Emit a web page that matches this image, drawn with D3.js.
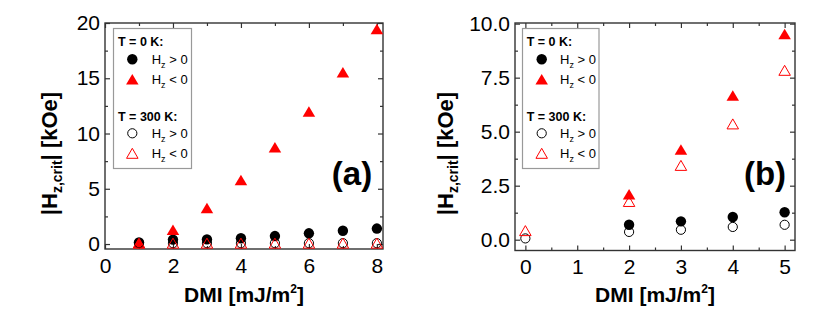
<!DOCTYPE html>
<html>
<head>
<meta charset="utf-8">
<script src="https://cdn.jsdelivr.net/npm/d3@7"></script>
<style>
  body { margin: 0; background: #fff; }
  svg { display: block; font-family: "Liberation Sans", Arial, sans-serif; }
</style>
</head>
<body>
<svg id="chart" width="830" height="321"></svg>
<script>
// ---------- Data ----------
// Panel (a)
const dmiA = [1, 2, 3, 4, 5, 6, 7, 8];
const a_T0_pos   = [0.15, 0.4, 0.42, 0.52, 0.72, 0.97, 1.2, 1.4];
const a_T0_neg   = [0.1, 1.3, 3.25, 5.8, 8.75, 12.0, 15.55, 19.45];
const a_T300_pos = [0.08, 0.08, 0.08, 0.08, 0.08, 0.08, 0.08, 0.08];
const a_T300_neg = [0.08, 0.08, 0.08, 0.08, 0.08, 0.08, 0.08, 0.08];
// Panel (b)  (no T = 0 K point at DMI = 0)
const dmiB = [0, 2, 3, 4, 5];
const b_T0_pos   = [null, 0.69, 0.85, 1.05, 1.27];
const b_T0_neg   = [null, 2.1, 4.17, 6.68, 9.52];
const b_T300_pos = [0.06, 0.36, 0.46, 0.59, 0.69];
const b_T300_neg = [0.42, 1.77, 3.44, 5.36, 7.84];

const xTicksA = [0, 2, 4, 6, 8];
const xMinorA = [1, 3, 5, 7];
const yTicksA = [0, 5, 10, 15, 20];
const yMinorA = [2.5, 7.5, 12.5, 17.5];
const xTicksB = [0, 1, 2, 3, 4, 5];
const xMinorB = [-0.5, 0.5, 1.5, 2.5, 3.5, 4.5];
const yTicksB = [0, 2.5, 5, 7.5, 10];
const yMinorB = [1.25, 3.75, 6.25, 8.75];

const legendGroups = ["T = 0 K:", "T = 300 K:"];
const legendLabels = ["> 0", "< 0"];

const svg = d3.select("#chart");
const RED = "#ff0000";

function triPath(w, h) {
  return `M0,${-h/2}L${w/2},${h/2}L${-w/2},${h/2}Z`;
}

function drawPanel(cfg) {
  const g = svg.append("g");
  const x = d3.scaleLinear().domain(cfg.xDomain).range([cfg.left, cfg.right]);
  const y = d3.scaleLinear().domain(cfg.yDomain).range([cfg.bottom, cfg.top]);

  const mk = (axis, scale, ticks, size, fmt, pad) =>
    axis(scale).tickValues(ticks).tickSize(size).tickPadding(pad).tickFormat(fmt);

  const addAxis = (ax, tx, ty) => {
    const a = g.append("g").attr("transform", `translate(${tx},${ty})`).call(ax);
    a.select(".domain").remove();
    a.selectAll(".tick line").attr("stroke", "#333").attr("stroke-width", 1.2);
    a.selectAll("text").attr("font-size", 21).attr("fill", "#000")
      .attr("font-family", "'Liberation Sans', Arial, sans-serif");
    return a;
  };
  const none = () => "";
  const xMin = cfg.xMinor.filter(v => v > cfg.xDomain[0]);
  addAxis(mk(d3.axisBottom, x, cfg.xTicks, -5, cfg.xFmt, 9), 0, cfg.bottom);
  addAxis(mk(d3.axisBottom, x, xMin, -3, none, 9), 0, cfg.bottom);
  addAxis(mk(d3.axisTop, x, cfg.xTicks, -5, none, 9), 0, cfg.top);
  addAxis(mk(d3.axisTop, x, xMin, -3, none, 9), 0, cfg.top);
  addAxis(mk(d3.axisLeft, y, cfg.yTicks, -5, cfg.yFmt, 5), cfg.left, 0);
  addAxis(mk(d3.axisLeft, y, cfg.yMinor, -3, none, 5), cfg.left, 0);
  addAxis(mk(d3.axisRight, y, cfg.yTicks, -5, none, 5), cfg.right, 0);
  addAxis(mk(d3.axisRight, y, cfg.yMinor, -3, none, 5), cfg.right, 0);

  g.append("rect")
    .attr("x", cfg.left).attr("y", cfg.top)
    .attr("width", cfg.right - cfg.left).attr("height", cfg.bottom - cfg.top)
    .attr("fill", "none").attr("stroke", "#333").attr("stroke-width", 1.4);

  const series = [
    { vals: cfg.s0p, type: "circle", fill: "#000", stroke: "none" },
    { vals: cfg.s0n, type: "tri", fill: RED, stroke: "none" },
    { vals: cfg.s3p, type: "circle", fill: "none", stroke: "#000" },
    { vals: cfg.s3n, type: "tri", fill: "none", stroke: RED },
  ];
  series.forEach(s => {
    const pts = cfg.xs.map((d, i) => ({ x: d, y: s.vals[i] })).filter(p => p.y != null);
    if (s.type === "circle") {
      g.append("g").selectAll("circle").data(pts).join("circle")
        .attr("cx", d => x(d.x)).attr("cy", d => y(d.y))
        .attr("r", s.fill === "none" ? 4.6 : 5.2)
        .attr("fill", s.fill).attr("stroke", s.stroke).attr("stroke-width", 1);
    } else {
      g.append("g").selectAll("path").data(pts).join("path")
        .attr("transform", d => `translate(${x(d.x)},${y(d.y)})`)
        .attr("d", s.fill === "none" ? triPath(11.5, 10) : triPath(12.5, 10.5))
        .attr("fill", s.fill).attr("stroke", s.stroke).attr("stroke-width", 1);
    }
  });

  const L = cfg.legend;
  g.append("rect").attr("x", L.x0).attr("y", 28.5).attr("width", L.x1 - L.x0).attr("height", 140)
    .attr("fill", "#fff").attr("stroke", "#999").attr("stroke-width", 1.2);
  const rows = [
    { head: legendGroups[0], y: 46 },
    { mark: "fc", lab: legendLabels[0], y: 59.3 },
    { mark: "ft", lab: legendLabels[1], y: 79.3 },
    { head: legendGroups[1], y: 121 },
    { mark: "oc", lab: legendLabels[0], y: 133.3 },
    { mark: "ot", lab: legendLabels[1], y: 153.3 },
  ];
  rows.forEach(r => {
    if (r.head) {
      g.append("text").attr("x", L.tx).attr("y", r.y).attr("font-size", 12.5)
        .attr("font-weight", "bold").text(r.head);
      return;
    }
    if (r.mark === "fc") g.append("circle").attr("cx", L.mx).attr("cy", r.y).attr("r", 5.2).attr("fill", "#000");
    if (r.mark === "oc") g.append("circle").attr("cx", L.mx).attr("cy", r.y).attr("r", 4.6).attr("fill", "none").attr("stroke", "#000");
    if (r.mark === "ft") g.append("path").attr("transform", `translate(${L.mx},${r.y})`).attr("d", triPath(12.5, 10.5)).attr("fill", RED);
    if (r.mark === "ot") g.append("path").attr("transform", `translate(${L.mx},${r.y})`).attr("d", triPath(11.5, 10)).attr("fill", "none").attr("stroke", RED);
    const t = g.append("text").attr("x", L.lx).attr("y", r.y + 4.5).attr("font-size", 13);
    t.append("tspan").text("H");
    t.append("tspan").attr("font-size", 9).attr("dy", 4).text("z");
    t.append("tspan").attr("dy", -4).text(" " + r.lab);
  });

  const xt = g.append("text").attr("x", cfg.xTitleX).attr("y", 302).attr("text-anchor", "middle")
    .attr("font-size", 21).attr("font-weight", "bold");
  xt.append("tspan").text("DMI [mJ/m");
  xt.append("tspan").attr("font-size", 12).attr("dy", -9).text("2");
  xt.append("tspan").attr("dy", 9).text("]");

  const yt = g.append("text")
    .attr("transform", `translate(${cfg.yTitleX},153.5) rotate(-90)`)
    .attr("text-anchor", "middle").attr("font-size", 22).attr("font-weight", "bold");
  yt.append("tspan").text("|H");
  yt.append("tspan").attr("font-size", 14).attr("dy", 5).text("z,crit");
  yt.append("tspan").attr("dy", -5).text("| [kOe]");

  g.append("text").attr("x", cfg.labX).attr("y", 185).attr("text-anchor", "middle")
    .attr("font-size", 33).attr("font-weight", "bold").text(cfg.label);
}

drawPanel({
  left: 105, right: 383, top: 23, bottom: 249,
  xDomain: [0, 8.18], yDomain: [-0.45, 20],
  xTicks: xTicksA, xMinor: xMinorA, yTicks: yTicksA, yMinor: yMinorA,
  xFmt: d3.format("d"), yFmt: d3.format("d"),
  xs: dmiA, s0p: a_T0_pos, s0n: a_T0_neg, s3p: a_T300_pos, s3n: a_T300_neg,
  legend: { x0: 113.5, x1: 191.5, tx: 118, mx: 132.3, lx: 151.7 },
  xTitleX: 244, yTitleX: 57, labX: 352, label: "(a)"
});

drawPanel({
  left: 515, right: 795, top: 23, bottom: 250.5,
  xDomain: [-0.2, 5.2], yDomain: [-0.5, 10.03],
  xTicks: xTicksB, xMinor: xMinorB, yTicks: yTicksB, yMinor: yMinorB,
  xFmt: d3.format("d"), yFmt: d3.format(".1f"),
  xs: dmiB, s0p: b_T0_pos, s0n: b_T0_neg, s3p: b_T300_pos, s3n: b_T300_neg,
  legend: { x0: 522.5, x1: 599, tx: 526.7, mx: 541.7, lx: 560 },
  xTitleX: 655, yTitleX: 453, labX: 765, label: "(b)"
});
</script>
</body>
</html>
